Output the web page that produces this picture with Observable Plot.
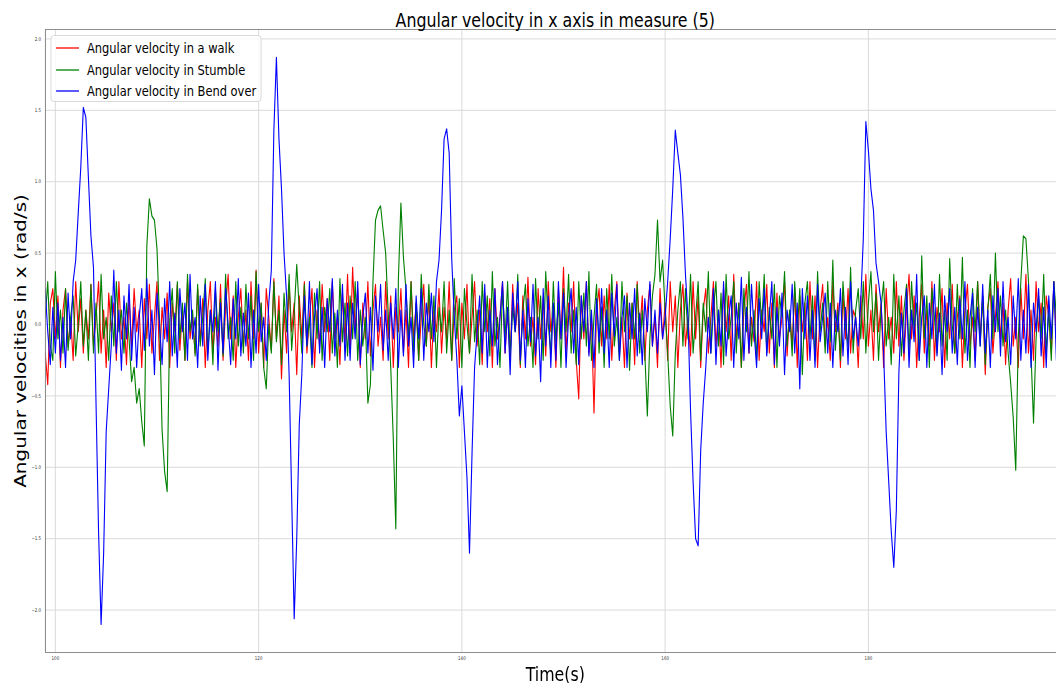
<!DOCTYPE html>
<html>
<head>
<meta charset="utf-8">
<script src="https://cdn.jsdelivr.net/npm/d3@7"></script>
<script src="https://cdn.jsdelivr.net/npm/@observablehq/plot@0.6"></script>
<style>
html, body { margin: 0; padding: 0; overflow: hidden; background: #fff; width: 1056px; height: 683px; }
#wrap { position: relative; width: 1337px; height: 683px; transform: scaleX(0.78983); transform-origin: 0 0; font-family: "DejaVu Sans", sans-serif; }
#wrap > svg { position: absolute; left: 0; top: 0; }
#legend { position: absolute; left: 64px; top: 35px; width: 267px; height: 67px; border: 1px solid #d4d4d4; border-radius: 4px; background: rgba(255,255,255,0.8); box-sizing: border-box; }
#legend svg.sw { position: absolute; left: 0; top: 0; width: 44px; height: 66px; overflow: visible; }
.lb { position: absolute; left: 45px; font-size: 14.5px; line-height: 16px; white-space: nowrap; color: #000; }
</style>
</head>
<body>
<div id="wrap"></div>
<script>
// ---- data ----
const title = "Angular velocity in x axis in measure (5)";
const xLabel = "Time(s)";
const yLabel = "Angular velocities in x (rad/s)";
const seriesNames = ["Angular velocity in a walk", "Angular velocity in Stumble", "Angular velocity in Bend over"];
const seriesColors = ["#ff0000", "#008000", "#0000ff"];
const xTicks = [100, 120, 140, 160, 180];
const yTicks = [-2.0, -1.5, -1.0, -0.5, 0.0, 0.5, 1.0, 1.5, 2.0];
const xDomain = [99.02, 198.5];
const yDomain = [-2.297, 2.066];
const t0 = 99;      // first sample time (s)
const dt = 0.25;    // sample spacing (s)

const walk = [
-0.20,-0.42,0.15,0.25,-0.10,0.20,-0.30,0.10,0.25,-0.15,0.05,-0.25,0.30,-0.05,0.18,-0.20,0.10,-0.10,0.28,-0.15,
0.05,0.30,-0.20,0.10,-0.30,0.22,-0.05,0.15,-0.25,0.30,-0.10,0.05,-0.28,0.20,-0.15,0.25,-0.05,0.10,-0.30,0.18,
-0.10,0.28,-0.20,0.05,0.30,-0.25,0.12,-0.10,0.22,-0.30,0.15,-0.05,0.28,-0.18,0.10,-0.25,0.30,-0.10,0.05,-0.20,
0.25,-0.12,0.18,-0.30,0.10,0.30,-0.20,0.05,-0.15,0.28,-0.25,0.12,0.35,-0.10,0.20,-0.30,0.05,0.25,-0.15,0.10,
-0.25,0.30,-0.10,0.38,-0.20,0.15,-0.30,0.25,0.05,-0.18,0.32,-0.10,0.20,-0.38,0.10,-0.20,0.28,-0.05,0.15,-0.35,
0.20,-0.10,0.30,-0.20,0.05,0.25,-0.30,0.10,-0.15,0.28,-0.05,0.18,-0.25,0.30,-0.10,0.05,-0.28,0.22,-0.12,0.35,
-0.20,0.40,-0.05,0.25,-0.30,0.15,-0.10,0.30,-0.22,0.10,0.28,-0.15,0.05,-0.25,0.30,-0.10,0.20,-0.30,0.12,-0.05,
0.25,-0.20,0.10,-0.30,0.30,-0.10,0.15,-0.25,0.05,0.28,-0.15,0.20,-0.30,0.10,-0.05,0.25,-0.20,0.12,-0.10,0.30,
-0.25,0.10,0.20,-0.30,0.15,-0.10,0.28,-0.20,0.05,0.30,-0.15,0.10,-0.28,0.22,-0.05,0.18,-0.30,0.25,-0.10,0.05,
0.30,-0.20,0.10,-0.25,0.28,-0.05,0.15,-0.30,0.20,-0.10,0.33,-0.15,0.05,-0.28,0.25,-0.10,0.18,-0.22,0.30,-0.05,
0.10,-0.30,0.25,-0.10,0.40,-0.20,0.15,-0.05,0.30,-0.25,-0.52,0.20,-0.10,0.30,-0.20,0.05,-0.62,0.10,0.25,-0.15,
0.20,-0.10,0.28,-0.25,0.10,0.30,-0.20,0.05,-0.30,0.22,-0.10,0.15,-0.28,0.30,-0.05,0.20,-0.25,0.10,0.28,-0.15,
0.05,-0.30,0.25,-0.10,0.15,-0.25,0.30,-0.05,0.20,-0.30,0.10,0.28,-0.15,0.05,-0.22,0.30,-0.10,0.20,-0.30,0.10,
0.25,-0.20,0.05,0.30,-0.15,0.10,-0.30,0.25,-0.05,0.20,-0.25,0.35,-0.10,0.15,-0.30,0.10,0.28,-0.20,0.05,-0.12,
0.30,-0.25,0.10,-0.05,0.28,-0.20,0.15,-0.30,0.22,-0.10,0.05,0.30,-0.22,0.10,-0.15,0.25,-0.30,0.20,-0.05,0.15,
-0.25,0.30,-0.10,0.20,-0.30,0.10,0.28,-0.15,0.05,-0.25,0.30,-0.05,0.15,-0.30,0.22,-0.10,0.25,-0.20,0.10,0.05,
-0.30,0.20,-0.10,0.35,-0.15,0.10,-0.25,0.28,-0.05,0.15,-0.30,0.25,-0.10,0.05,-0.20,0.30,-0.15,0.20,-0.25,0.10,
0.35,-0.10,0.20,-0.30,0.05,0.28,-0.20,0.10,-0.15,0.30,-0.25,0.12,-0.05,0.25,-0.30,0.15,-0.10,0.28,-0.20,0.05,
0.20,-0.30,0.10,0.28,-0.15,0.05,-0.25,0.30,-0.10,0.20,-0.35,0.12,0.25,-0.20,0.05,0.30,-0.10,0.15,-0.28,0.10,
0.32,-0.15,0.05,-0.30,0.25,-0.10,0.35,-0.20,0.10,-0.25,0.30,-0.05,0.15,-0.30,0.20,0.05,-0.20,0.30,-0.10,0.15
];

const stumble = [
0.05,0.30,-0.15,-0.25,0.37,-0.10,0.10,-0.20,0.25,-0.18,0.05,0.20,-0.22,0.00,0.30,-0.15,0.10,-0.25,0.28,-0.20,
0.15,-0.20,0.35,-0.10,0.05,-0.25,0.20,-0.15,0.30,-0.05,0.10,-0.20,0.15,-0.10,-0.40,-0.30,-0.55,-0.45,-0.68,-0.85,
0.55,0.88,0.76,0.73,0.53,0.03,-0.74,-1.03,-1.17,0.03,0.25,-0.20,0.30,-0.10,0.15,-0.25,0.35,-0.05,0.10,-0.22,
0.28,-0.15,0.05,0.32,-0.20,0.10,-0.28,0.25,-0.05,0.18,-0.22,0.35,-0.10,0.05,-0.25,0.30,-0.15,0.12,-0.20,0.28,
-0.10,0.20,-0.25,0.37,-0.05,0.15,-0.30,-0.45,0.00,-0.20,0.30,-0.12,0.10,-0.28,0.22,-0.05,0.35,-0.18,0.08,0.42,
0.10,-0.20,0.28,-0.15,0.05,-0.30,0.22,-0.10,0.30,-0.25,0.12,-0.05,0.25,-0.20,0.08,-0.30,0.32,-0.12,0.15,-0.22,
0.20,-0.10,0.30,-0.25,0.10,-0.15,0.05,-0.55,-0.42,0.30,0.73,0.80,0.83,0.66,0.50,0.08,-0.30,-0.80,-1.43,0.31,
0.85,0.47,0.24,-0.10,0.30,-0.20,0.15,-0.25,0.35,0.00,-0.15,0.28,-0.10,0.20,-0.30,0.12,-0.05,0.30,-0.20,0.10,
-0.25,0.32,-0.10,0.18,-0.30,0.25,0.00,-0.20,0.35,-0.12,0.10,-0.28,0.30,-0.05,0.20,-0.22,0.37,-0.15,0.05,-0.30,
0.25,-0.10,0.30,-0.22,0.12,-0.05,0.35,-0.28,0.10,0.28,-0.15,0.05,-0.30,0.32,-0.10,0.20,-0.25,0.37,0.00,-0.20,
0.30,-0.12,0.15,-0.30,0.25,-0.05,0.35,-0.20,0.10,-0.28,0.30,-0.10,0.22,-0.15,0.37,-0.25,0.05,0.28,-0.20,0.12,
-0.30,0.25,-0.10,0.35,-0.15,0.05,-0.25,0.30,-0.05,0.20,-0.32,0.15,-0.10,0.28,-0.20,0.10,-0.20,-0.64,-0.10,0.20,
0.35,0.73,0.30,0.45,0.10,-0.20,-0.57,-0.78,-0.20,0.10,0.30,-0.15,0.25,-0.10,0.35,-0.20,0.05,0.30,-0.25,0.15,
-0.05,0.37,-0.20,0.10,0.30,-0.15,0.22,-0.28,0.35,-0.10,0.05,0.30,-0.20,0.15,-0.30,0.25,-0.05,0.37,-0.15,0.10,
-0.25,0.30,0.00,0.35,-0.20,0.12,-0.10,0.28,-0.30,0.20,0.05,0.37,-0.15,0.10,-0.22,0.30,-0.05,0.25,-0.35,0.15,
0.30,-0.10,0.20,-0.25,0.37,-0.05,0.15,-0.20,0.30,-0.12,0.45,-0.18,0.10,-0.25,0.30,0.00,-0.15,0.40,-0.20,0.10,
0.25,-0.10,0.30,-0.20,0.15,0.37,-0.05,0.22,-0.25,0.12,0.30,-0.15,0.05,-0.28,0.35,-0.10,0.20,-0.22,0.10,0.28,
-0.20,0.30,-0.05,0.15,-0.25,0.48,-0.10,0.20,-0.30,0.25,0.05,-0.20,0.35,-0.15,0.10,-0.25,0.46,0.00,-0.20,0.28,
-0.10,0.47,-0.20,0.10,-0.30,0.25,-0.05,0.30,-0.15,0.20,-0.28,0.10,0.35,-0.10,0.50,-0.05,0.20,-0.15,0.10,-0.20,
-0.41,-0.65,-1.02,-0.10,0.30,0.62,0.60,0.31,-0.20,-0.69,-0.10,0.20,-0.10,0.35,-0.20,0.10,-0.25,0.30,0.05,0.35
];

const bendOver = [
0.25,-0.05,-0.28,0.12,-0.20,0.15,-0.25,0.05,-0.30,0.22,-0.10,0.30,0.45,0.78,1.10,1.52,1.45,1.03,0.62,0.40,
-0.55,-1.45,-2.10,-1.60,-0.75,-0.45,-0.15,0.38,-0.20,0.10,-0.32,0.20,-0.10,0.28,-0.25,0.12,-0.30,0.05,0.25,-0.18,
0.32,-0.15,0.10,-0.35,0.22,0.00,-0.28,0.18,-0.12,0.30,-0.22,0.08,-0.30,0.25,-0.05,0.15,-0.25,0.35,-0.10,0.05,
-0.30,0.20,-0.15,0.28,-0.25,0.10,-0.05,0.30,-0.32,0.15,-0.20,0.25,0.00,-0.28,0.18,-0.10,0.32,-0.22,0.08,-0.15,
0.22,-0.30,0.10,-0.20,0.28,-0.12,0.05,-0.25,0.15,0.38,1.36,1.87,1.30,0.95,0.50,0.20,-0.35,-1.20,-2.06,-1.50,
-0.70,-0.35,0.20,-0.15,0.30,-0.28,0.05,0.25,-0.20,0.12,-0.30,0.18,-0.05,0.32,-0.22,0.10,-0.15,0.28,-0.25,0.15,
-0.25,0.15,-0.10,0.30,-0.28,0.05,0.22,-0.20,0.12,-0.32,0.20,-0.05,0.28,-0.18,0.10,-0.25,0.15,-0.10,0.25,-0.30,
0.10,-0.22,0.28,-0.15,0.05,-0.30,0.20,-0.10,0.25,-0.25,0.15,-0.05,0.22,-0.12,0.30,0.45,0.80,1.30,1.37,1.20,
0.46,0.05,-0.24,-0.64,-0.43,-0.75,-1.07,-1.60,-0.90,-0.30,-0.05,0.20,-0.20,0.28,-0.30,0.10,-0.15,0.25,-0.28,0.05,
0.30,-0.20,0.12,-0.35,0.22,-0.05,0.30,-0.25,0.10,-0.30,0.18,-0.12,0.28,-0.22,0.05,-0.40,0.25,-0.15,0.20,-0.30,
0.15,-0.25,0.30,-0.10,0.22,-0.30,0.05,0.25,-0.20,0.12,-0.28,0.20,-0.05,0.30,-0.22,0.10,-0.30,0.18,-0.12,0.25,
-0.20,0.10,-0.30,0.22,-0.08,0.28,-0.25,0.05,0.20,-0.30,0.15,-0.10,0.25,-0.22,0.08,-0.28,0.18,-0.05,0.30,-0.15,
0.10,-0.20,0.15,-0.10,0.05,0.30,0.60,0.95,1.36,1.20,1.05,0.75,0.35,0.05,-0.60,-1.10,-1.50,-1.55,-0.88,-0.55,
-0.30,0.05,-0.20,0.25,-0.28,0.10,-0.15,0.30,-0.22,0.05,0.20,-0.30,0.15,-0.10,0.33,-0.25,0.12,-0.20,0.28,-0.05,
-0.30,0.18,-0.10,0.25,-0.22,0.05,0.30,-0.28,0.12,-0.15,0.22,-0.35,0.10,-0.05,0.28,-0.20,0.15,-0.45,0.25,-0.10,
0.20,-0.25,0.10,-0.30,0.28,-0.12,0.05,0.22,-0.20,0.15,-0.30,0.10,-0.05,0.25,-0.22,0.12,-0.28,0.30,-0.10,0.05,
-0.15,0.17,0.60,1.42,1.22,0.95,0.80,0.43,0.30,0.15,-0.20,-0.75,-1.10,-1.45,-1.70,-1.30,-0.34,0.08,-0.20,0.25,
-0.30,0.10,-0.12,0.35,-0.25,0.05,0.20,-0.30,0.15,-0.10,0.28,-0.22,0.08,-0.35,0.20,-0.05,0.25,-0.20,0.12,-0.28,
0.18,-0.10,0.30,-0.25,0.05,0.22,-0.30,0.12,-0.15,0.28,-0.20,0.10,-0.30,0.20,-0.05,0.25,-0.22,0.30,-0.12,0.05,
-0.28,0.20,-0.10,0.32,-0.25,0.10,-0.20,0.28,-0.30,0.15,-0.05,0.25,-0.22,0.12,-0.30,0.20,-0.10,0.30,-0.25,0.10
];

// ---- chart ----
const time = walk.map((_, i) => t0 + i * dt);
const seriesValues = [walk, stumble, bendOver];

const lineMarks = seriesValues.map((vals, k) =>
  Plot.line(vals, { x: time, y: vals, stroke: seriesColors[k], strokeWidth: 1.4, clip: true })
);

const chart = Plot.plot({
  width: 1337,
  height: 683,
  marginLeft: 57,
  marginRight: 0,
  marginTop: 29,
  marginBottom: 31,
  style: { fontFamily: '"DejaVu Sans", sans-serif', background: "white", overflow: "visible" },
  x: { domain: xDomain },
  y: { domain: yDomain },
  marks: [
    Plot.gridX({ ticks: xTicks, stroke: "#d6d6d6", strokeOpacity: 1 }),
    Plot.gridY({ ticks: yTicks, stroke: "#d6d6d6", strokeOpacity: 1 }),
    ...lineMarks,
    Plot.ruleX([xDomain[0]], { stroke: "#808080", strokeWidth: 1.2 }),
    Plot.ruleY(yDomain, { stroke: "#808080", strokeWidth: 1 }),
    Plot.axisX({ ticks: xTicks, tickSize: 0, tickPadding: 4, fontSize: 5, label: null, tickFormat: d3.format("d"), fill: "#333" }),
    Plot.axisY({ ticks: yTicks, tickSize: 0, tickPadding: 5.5, fontSize: 5, label: null, tickFormat: d3.format(".1f"), fill: "#333" }),
    Plot.text([title], { text: d => d, frameAnchor: "top", dx: 5.5, dy: -9.4, fontSize: 20, textAnchor: "middle", lineAnchor: "middle", fill: "#000" }),
    Plot.text([xLabel], { text: d => d, frameAnchor: "bottom", dx: 5.5, dy: 21.6, fontSize: 20, textAnchor: "middle", lineAnchor: "middle", fill: "#000" }),
    Plot.text([yLabel], { text: d => d, frameAnchor: "left", rotate: -90, dx: -30.4, fontSize: 20, textAnchor: "middle", lineAnchor: "middle", fill: "#000" })
  ]
});

const wrap = document.getElementById("wrap");
wrap.appendChild(chart);

// legend (matplotlib-style box, upper left)
const legend = document.createElement("div");
legend.id = "legend";
const rowCenters = [12, 34, 55];
const ns = "http://www.w3.org/2000/svg";
const swSvg = document.createElementNS(ns, "svg");
swSvg.setAttribute("class", "sw");
seriesNames.forEach((name, k) => {
  const ln = document.createElementNS(ns, "line");
  ln.setAttribute("x1", 6);
  ln.setAttribute("x2", 35);
  ln.setAttribute("y1", rowCenters[k]);
  ln.setAttribute("y2", rowCenters[k]);
  ln.setAttribute("stroke", seriesColors[k]);
  ln.setAttribute("stroke-width", 1.3);
  swSvg.appendChild(ln);
  const lb = document.createElement("div");
  lb.className = "lb";
  lb.style.top = (rowCenters[k] - 8) + "px";
  lb.textContent = name;
  legend.appendChild(lb);
});
legend.appendChild(swSvg);
wrap.appendChild(legend);
</script>
</body>
</html>
